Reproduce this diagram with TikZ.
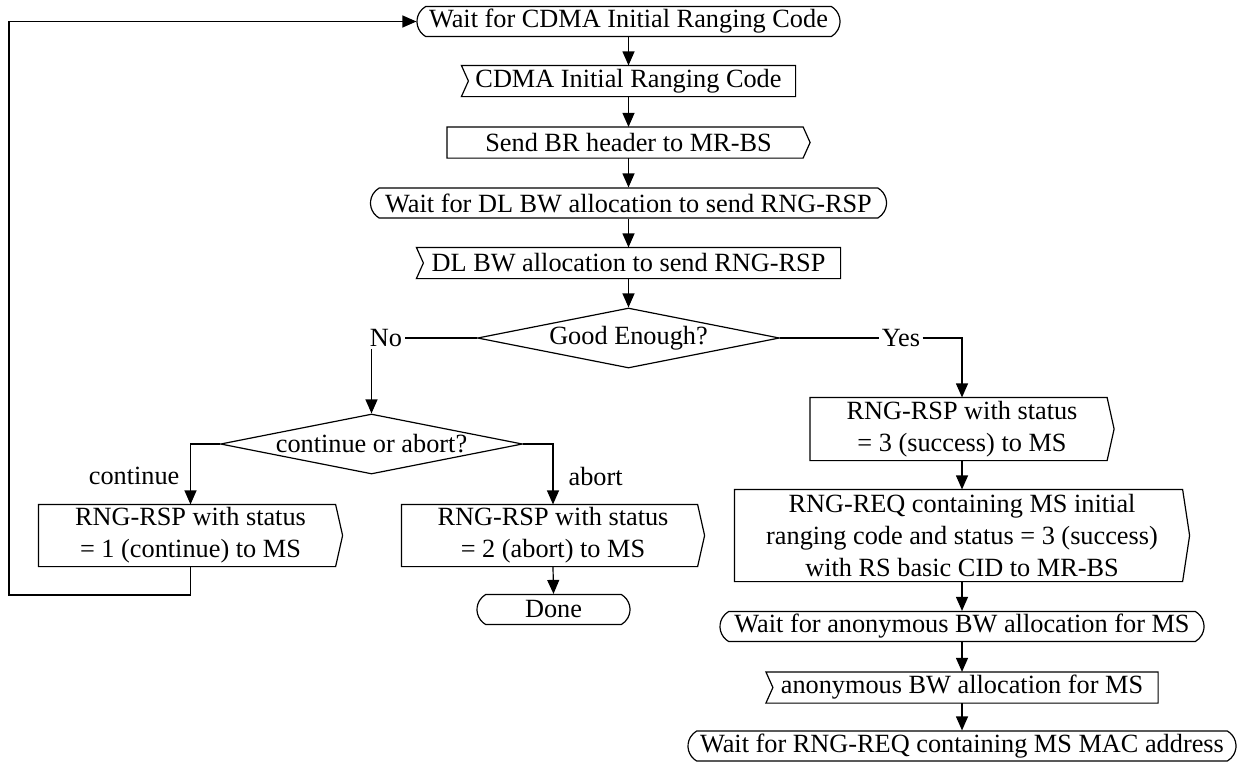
\documentclass[tikz,border=0pt]{standalone}
\usepackage{fontspec}
\setmainfont{Liberation Serif}
\usetikzlibrary{arrows.meta, shapes.geometric, shapes.misc}

\tikzset{
  flow/.style={-{Triangle[length=7pt, width=6pt]}},
  waitstate/.style={rounded rectangle, rounded rectangle arc length=120, draw, inner sep=0pt, minimum height=15pt},
  sigbox/.style={rectangle, inner sep=0pt, align=center, minimum height=15pt},
  decision/.style={diamond, draw, inner sep=0pt, aspect=5, minimum width=151pt, minimum height=30pt},
  lbl/.style={inner sep=1pt},
}

\begin{document}
\begin{tikzpicture}[x=0.5pt, y=-0.5pt, line width=0.6pt, font=\fontsize{13.15}{15.85}\selectfont]
    \useasboundingbox (0,0) rectangle (1241,761);

    % Main column
    \node[waitstate, minimum width=211.5pt] (waitcdma) at (628.5, 21.5) {Wait for CDMA Initial Ranging Code};
    \node[sigbox, minimum width=166.5pt] (cdma) at (628.5, 81) {CDMA Initial Ranging Code};
    \node[sigbox, minimum width=181pt] (sendbr) at (628.5, 142.5) {Send BR header to MR-BS};
    \node[waitstate, minimum width=258pt] (waitdl) at (628.5, 203) {Wait for DL BW allocation to send RNG-RSP};
    \node[sigbox, minimum width=211.5pt] (dlbw) at (628.5, 263) {DL BW allocation to send RNG-RSP};
    \node[decision] (good) at (628.5, 338) {Good Enough?};

    % Branch labels
    \node[lbl] (nolbl) at (386, 338) {No};
    \node[lbl] (yeslbl) at (901, 338) {Yes};

    % No branch
    \node[decision] (cora) at (371.5, 444) {continue or abort?};
    \node[lbl, anchor=east] (contlbl) at (182, 476) {continue};
    \node[lbl, anchor=west] (abortlbl) at (566, 476) {abort};
    \node[sigbox, minimum width=151.5pt, minimum height=30.5pt] (rspcont) at (190.5, 535.5) {RNG-RSP with status\\= 1 (continue) to MS};
    \node[sigbox, minimum width=151pt, minimum height=30.5pt] (rspabort) at (553, 535.5) {RNG-RSP with status\\= 2 (abort) to MS};
    \node[waitstate, minimum width=76.5pt] (done) at (553.5, 609.5) {Done};

    % Yes branch
    \node[sigbox, minimum width=151.5pt, minimum height=31pt] (rspok) at (962, 429) {RNG-RSP with status\\= 3 (success) to MS};
    \node[sigbox, minimum width=227pt, minimum height=45.5pt] (rngreq) at (962, 535.5) {RNG-REQ containing MS initial\\ranging code and status = 3 (success)\\with RS basic CID to MR-BS};
    \node[waitstate, minimum width=242pt] (waitanon) at (962, 626.5) {Wait for anonymous BW allocation for MS};
    \node[sigbox, minimum width=195.5pt] (anon) at (962, 687.5) {anonymous BW allocation for MS};
    \node[waitstate, minimum width=274pt] (waitmac) at (962, 746) {Wait for RNG-REQ containing MS MAC address};

    % Output signals (pointed right side)
    \foreach \n in {sendbr, rspcont, rspabort, rspok, rngreq} {
        \draw (\n.north west) -- ([xshift=-3.5pt]\n.north east) -- (\n.east) -- ([xshift=-3.5pt]\n.south east) -- (\n.south west) -- cycle;
    }
    % Input signals (notched left side)
    \foreach \n in {cdma, dlbw, anon} {
        \draw (\n.north west) -- (\n.north east) -- (\n.south east) -- (\n.south west) -- ([xshift=3.5pt]\n.west) -- cycle;
    }

    % Connectors
    \draw[flow] (waitcdma.south) -- (cdma.north);
    \draw[flow] (cdma.south) -- (sendbr.north);
    \draw[flow] (sendbr.south) -- (waitdl.north);
    \draw[flow] (waitdl.south) -- (dlbw.north);
    \draw[flow] (dlbw.south) -- (good.north);

    \draw (good.west) -- (nolbl.east);
    \draw[flow] (nolbl.south -| cora.north) -- (cora.north);
    \draw (good.east) -- (yeslbl.west);
    \draw[flow] (yeslbl.east) -| (rspok.north);

    \draw[flow] (cora.west) -| (rspcont.north);
    \draw[flow] (cora.east) -| (rspabort.north);
    \draw[flow] (rspabort.south) -- (done.north);

    % Loop back to the start
    \coordinate (loopturn) at (9, 595);
    \draw[flow] (rspcont.south) |- (loopturn) |- (waitcdma.west);

    \draw[flow] (rspok.south) -- (rngreq.north);
    \draw[flow] (rngreq.south) -- (waitanon.north);
    \draw[flow] (waitanon.south) -- (anon.north);
    \draw[flow] (anon.south) -- (waitmac.north);

\end{tikzpicture}
\end{document}
